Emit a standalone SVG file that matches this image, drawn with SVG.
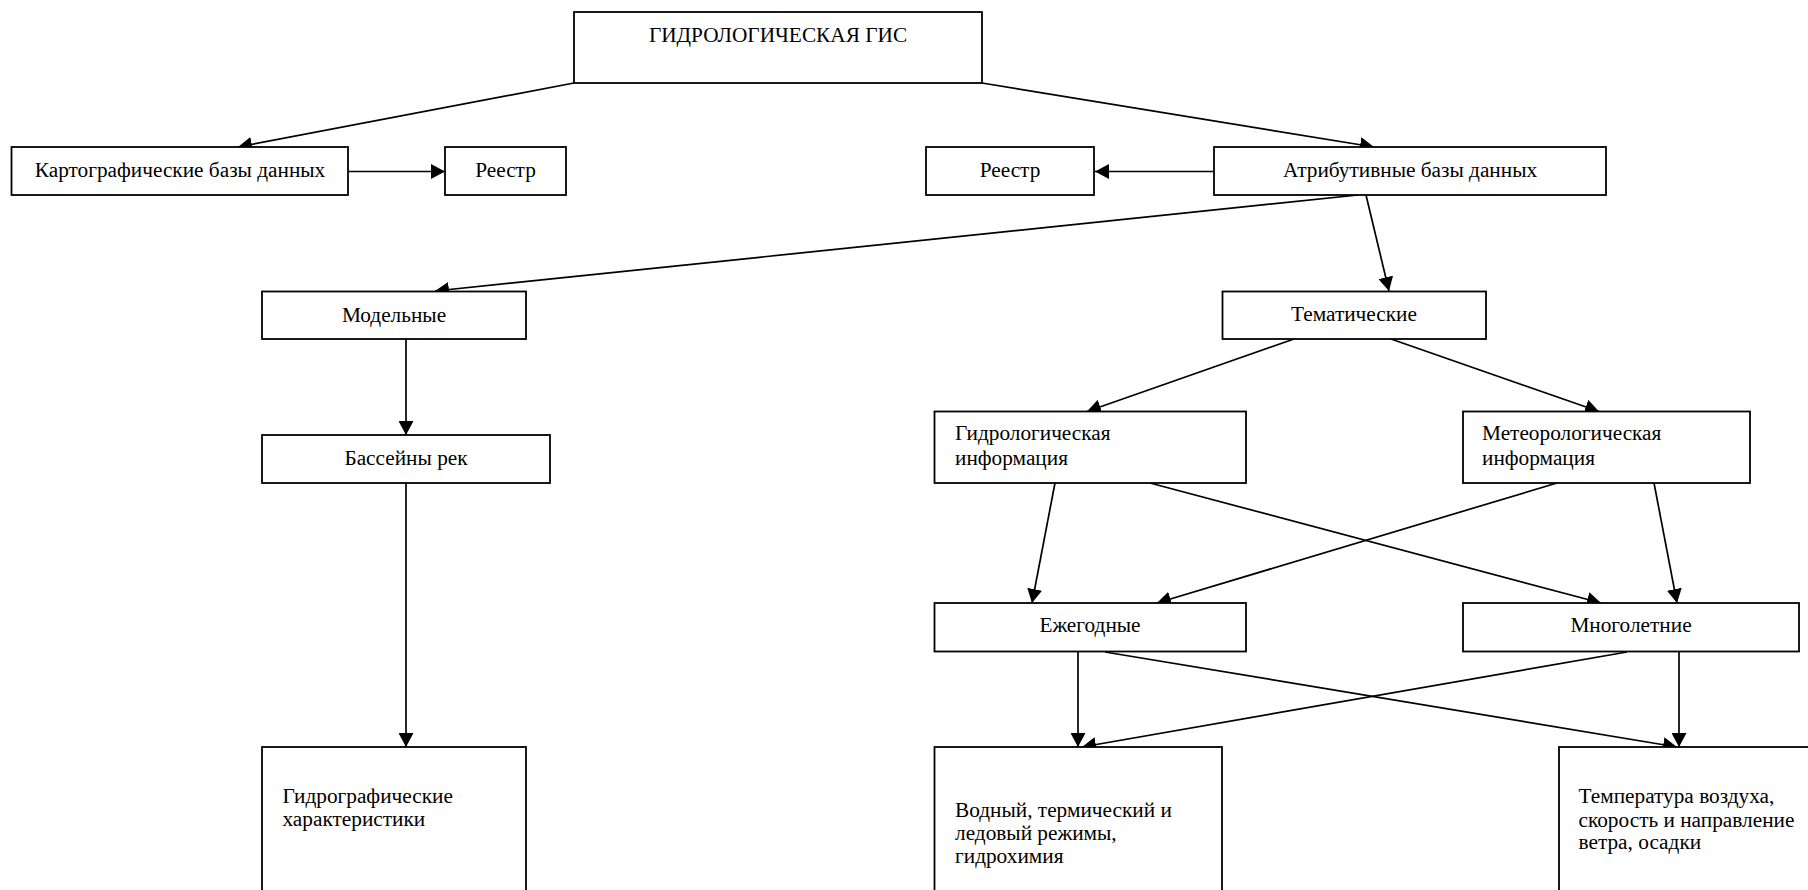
<svg xmlns="http://www.w3.org/2000/svg" width="1808" height="890" viewBox="0 0 1808 890">
<style>
rect{fill:#fff;stroke:#000;stroke-width:1.8}
text{font-family:"Liberation Serif","Times New Roman",serif;font-size:21.3px;fill:#000}
.c{text-anchor:middle}
#connectors line{stroke:#000;stroke-width:1.7;marker-end:url(#ah)}
</style>
<defs>
<marker id="ah" markerUnits="userSpaceOnUse" markerWidth="15" markerHeight="15" refX="14" refY="7.5" orient="auto" viewBox="0 0 15 15">
<path d="M0,0 L14,7.5 L0,15 z" fill="#000"/>
</marker>
</defs>
<rect x="0" y="0" width="1808" height="890" style="stroke:none"/>
<g id="connectors">
<line x1="574" y1="83" x2="238" y2="147"/>
<line x1="982" y1="83" x2="1374" y2="147"/>
<line x1="348" y1="171.5" x2="445" y2="171.5"/>
<line x1="1214" y1="171.5" x2="1095" y2="171.5"/>
<line x1="1358" y1="195" x2="435" y2="291"/>
<line x1="1366" y1="195" x2="1389" y2="291"/>
<line x1="406" y1="339" x2="406" y2="435"/>
<line x1="406" y1="483" x2="406" y2="747"/>
<line x1="1294" y1="339" x2="1087" y2="411.5"/>
<line x1="1391" y1="339" x2="1599" y2="411.5"/>
<line x1="1055" y1="483" x2="1032" y2="603"/>
<line x1="1150" y1="483" x2="1601" y2="603"/>
<line x1="1557" y1="483" x2="1157" y2="603"/>
<line x1="1654" y1="483" x2="1677" y2="603"/>
<line x1="1078" y1="652" x2="1078" y2="747"/>
<line x1="1105" y1="652" x2="1677" y2="747"/>
<line x1="1627" y1="652" x2="1082" y2="747"/>
<line x1="1679" y1="652" x2="1679" y2="747"/>
</g>
<g id="n-gis"><rect x="574" y="12" width="408" height="71"/><text class="c" x="778" y="42">ГИДРОЛОГИЧЕСКАЯ ГИС</text></g>
<g id="n-kart"><rect x="11.5" y="147" width="336.5" height="48"/><text class="c" x="180" y="177">Картографические базы данных</text></g>
<g id="n-reestr1"><rect x="445" y="147" width="121" height="48"/><text class="c" x="505.5" y="177">Реестр</text></g>
<g id="n-reestr2"><rect x="926" y="147" width="168" height="48"/><text class="c" x="1010" y="177">Реестр</text></g>
<g id="n-attr"><rect x="1214" y="147" width="392" height="48"/><text class="c" x="1410" y="177">Атрибутивные базы данных</text></g>
<g id="n-model"><rect x="262" y="291.5" width="264" height="47.5"/><text class="c" x="394" y="321.5">Модельные</text></g>
<g id="n-tema"><rect x="1222.5" y="291.5" width="263.5" height="47.5"/><text class="c" x="1354" y="320.5">Тематические</text></g>
<g id="n-bass"><rect x="262" y="435" width="288" height="48"/><text class="c" x="406" y="465">Бассейны рек</text></g>
<g id="n-hydroinfo"><rect x="934.5" y="411.5" width="311.5" height="71.5"/><text x="955" y="440">Гидрологическая</text><text x="955" y="465">информация</text></g>
<g id="n-meteoinfo"><rect x="1463" y="411.5" width="287" height="71.5"/><text x="1482" y="440">Метеорологическая</text><text x="1482" y="465">информация</text></g>
<g id="n-ezheg"><rect x="934.5" y="603" width="311.5" height="48.5"/><text class="c" x="1090" y="632">Ежегодные</text></g>
<g id="n-mnogo"><rect x="1463" y="603" width="336" height="48.5"/><text class="c" x="1631" y="632">Многолетние</text></g>
<g id="n-hydrograph"><rect x="262" y="747" width="264" height="160"/><text x="282.5" y="803">Гидрографические</text><text x="282.5" y="826">характеристики</text></g>
<g id="n-vodny"><rect x="934.5" y="747" width="287.5" height="160"/><text x="955" y="817">Водный, термический и</text><text x="955" y="840">ледовый режимы,</text><text x="955" y="863">гидрохимия</text></g>
<g id="n-temp"><rect x="1559" y="747" width="260" height="160"/><text x="1578.5" y="803">Температура воздуха,</text><text x="1578.5" y="826.5">скорость и направление</text><text x="1578.5" y="849">ветра, осадки</text></g>
</svg>
